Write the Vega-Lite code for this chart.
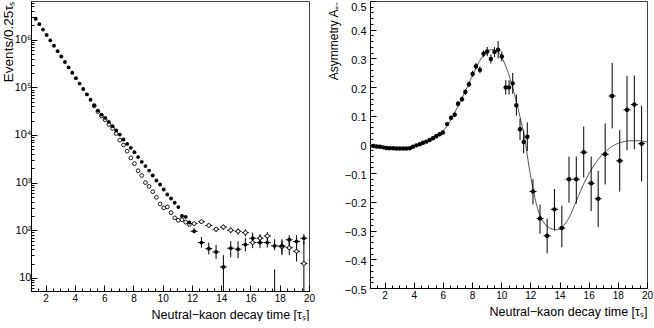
{
  "$schema": "https://vega.github.io/schema/vega-lite/v6.json",
  "padding": {"left": 0, "top": -4, "right": 0, "bottom": 0},
  "autosize": {"type": "pad"},
  "config": {
    "font": "Liberation Sans",
    "view": {"stroke": "#444", "strokeWidth": 1},
    "axis": {"domainColor": "#000", "tickColor": "#000", "labelColor": "#000", "titleColor": "#000", "grid": false, "titleFontWeight": "normal", "labelOverlap": false, "labelFlush": false}
  },
  "spacing": 61,
  "bounds": "flush",
  "datasets": {
    "lf": [
      {"t": 1.32, "n": 2754000}, {"t": 1.57, "n": 2123000}, {"t": 1.82, "n": 1633000}, {"t": 2.07, "n": 1259000},
      {"t": 2.32, "n": 968000}, {"t": 2.57, "n": 746000}, {"t": 2.82, "n": 575000}, {"t": 3.07, "n": 443000},
      {"t": 3.32, "n": 341000}, {"t": 3.57, "n": 262000}, {"t": 3.82, "n": 202000}, {"t": 4.07, "n": 156000},
      {"t": 4.32, "n": 120000}, {"t": 4.57, "n": 92500}, {"t": 4.82, "n": 71100}, {"t": 5.07, "n": 54800},
      {"t": 5.32, "n": 42300}, {"t": 5.57, "n": 32500}, {"t": 5.82, "n": 26800}, {"t": 6.07, "n": 22800},
      {"t": 6.32, "n": 18800}, {"t": 6.57, "n": 15300}, {"t": 6.82, "n": 12400}, {"t": 7.07, "n": 10200},
      {"t": 7.32, "n": 8020}, {"t": 7.57, "n": 6500}, {"t": 7.82, "n": 5370}, {"t": 8.07, "n": 4360},
      {"t": 8.32, "n": 3430}, {"t": 8.57, "n": 2730}, {"t": 8.82, "n": 2220}, {"t": 9.07, "n": 1790},
      {"t": 9.32, "n": 1410}, {"t": 9.57, "n": 1110}, {"t": 9.82, "n": 912}, {"t": 10.07, "n": 716},
      {"t": 10.32, "n": 562}, {"t": 10.57, "n": 465}, {"t": 10.82, "n": 377}, {"t": 11.07, "n": 306},
      {"t": 11.32, "n": 200}, {"t": 11.57, "n": 191}, {"t": 11.82, "n": 145}
    ],
    "lfe": [
      {"t": 12.15, "n": 95, "lo": 87, "hi": 110}, {"t": 12.65, "n": 55, "lo": 43, "hi": 72},
      {"t": 13.15, "n": 41, "lo": 31, "hi": 55}, {"t": 13.65, "n": 35, "lo": 25, "hi": 49},
      {"t": 14.15, "n": 17, "lo": 3, "hi": 30}, {"t": 14.65, "n": 42, "lo": 27, "hi": 59},
      {"t": 15.15, "n": 40, "lo": 26, "hi": 59}, {"t": 15.65, "n": 50, "lo": 36, "hi": 69},
      {"t": 16.15, "n": 68, "lo": 49, "hi": 89}, {"t": 16.65, "n": 55, "lo": 42, "hi": 79},
      {"t": 17.15, "n": 55, "lo": 43, "hi": 79}, {"t": 17.65, "n": 47, "lo": 38, "hi": 65},
      {"t": 18.15, "n": 47, "lo": 30, "hi": 65}, {"t": 18.65, "n": 63, "lo": 47, "hi": 79},
      {"t": 19.15, "n": 58, "lo": 30, "hi": 79}, {"t": 19.65, "n": 68, "lo": 50, "hi": 83}
    ],
    "lo": [
      {"t": 5.32, "n": 40700}, {"t": 5.57, "n": 30900}, {"t": 5.82, "n": 25100}, {"t": 6.07, "n": 20900},
      {"t": 6.32, "n": 16600}, {"t": 6.57, "n": 13800}, {"t": 6.82, "n": 10700}, {"t": 7.07, "n": 7760},
      {"t": 7.32, "n": 6170}, {"t": 7.57, "n": 4570}, {"t": 7.82, "n": 3310}, {"t": 8.07, "n": 2510},
      {"t": 8.32, "n": 1780}, {"t": 8.57, "n": 1410}, {"t": 8.82, "n": 1000}, {"t": 9.07, "n": 832},
      {"t": 9.32, "n": 646}, {"t": 9.57, "n": 490}, {"t": 9.82, "n": 355}, {"t": 10.07, "n": 295},
      {"t": 10.32, "n": 309}, {"t": 10.57, "n": 234}, {"t": 10.82, "n": 182}, {"t": 11.07, "n": 162},
      {"t": 11.32, "n": 166}, {"t": 11.57, "n": 148}, {"t": 11.82, "n": 132}
    ],
    "loe": [
      {"t": 12.15, "n": 138, "lo": 125, "hi": 150}, {"t": 12.65, "n": 151, "lo": 138, "hi": 165},
      {"t": 13.15, "n": 126, "lo": 112, "hi": 140}, {"t": 13.65, "n": 105, "lo": 92, "hi": 118},
      {"t": 14.15, "n": 117, "lo": 102, "hi": 132}, {"t": 14.65, "n": 100, "lo": 86, "hi": 115},
      {"t": 15.15, "n": 95, "lo": 80, "hi": 110}, {"t": 15.65, "n": 89, "lo": 74, "hi": 104},
      {"t": 16.15, "n": 55, "lo": 42, "hi": 70}, {"t": 16.65, "n": 68, "lo": 53, "hi": 83},
      {"t": 17.15, "n": 76, "lo": 60, "hi": 92}, {"t": 17.65, "n": 3, "lo": 1, "hi": 15},
      {"t": 18.15, "n": 45, "lo": 32, "hi": 60}, {"t": 18.65, "n": 43, "lo": 30, "hi": 57},
      {"t": 19.15, "n": 36, "lo": 22, "hi": 50}, {"t": 19.65, "n": 20, "lo": 3, "hi": 59}
    ],
    "ra": [
      {"t": 1.22, "a": -0.005, "lo": -0.008, "hi": -0.002}, {"t": 1.45, "a": -0.007, "lo": -0.010, "hi": -0.004},
      {"t": 1.68, "a": -0.008, "lo": -0.011, "hi": -0.005}, {"t": 1.91, "a": -0.010, "lo": -0.013, "hi": -0.007},
      {"t": 2.13, "a": -0.012, "lo": -0.015, "hi": -0.009}, {"t": 2.36, "a": -0.013, "lo": -0.016, "hi": -0.010},
      {"t": 2.59, "a": -0.013, "lo": -0.016, "hi": -0.010}, {"t": 2.81, "a": -0.014, "lo": -0.017, "hi": -0.011},
      {"t": 3.04, "a": -0.014, "lo": -0.017, "hi": -0.011}, {"t": 3.27, "a": -0.014, "lo": -0.017, "hi": -0.011},
      {"t": 3.49, "a": -0.014, "lo": -0.018, "hi": -0.010}, {"t": 3.73, "a": -0.013, "lo": -0.017, "hi": -0.009},
      {"t": 3.95, "a": -0.008, "lo": -0.012, "hi": -0.004}, {"t": 4.18, "a": -0.003, "lo": -0.007, "hi": 0.001},
      {"t": 4.41, "a": 0.001, "lo": -0.003, "hi": 0.005}, {"t": 4.63, "a": 0.006, "lo": 0.001, "hi": 0.011},
      {"t": 4.86, "a": 0.010, "lo": 0.005, "hi": 0.015}, {"t": 5.09, "a": 0.016, "lo": 0.011, "hi": 0.021},
      {"t": 5.32, "a": 0.022, "lo": 0.016, "hi": 0.028}, {"t": 5.54, "a": 0.029, "lo": 0.023, "hi": 0.035},
      {"t": 5.77, "a": 0.036, "lo": 0.030, "hi": 0.042}, {"t": 6.0, "a": 0.042, "lo": 0.035, "hi": 0.049},
      {"t": 6.29, "a": 0.071, "lo": 0.064, "hi": 0.078}, {"t": 6.56, "a": 0.093, "lo": 0.085, "hi": 0.101},
      {"t": 6.81, "a": 0.104, "lo": 0.096, "hi": 0.112}, {"t": 7.04, "a": 0.142, "lo": 0.133, "hi": 0.151},
      {"t": 7.31, "a": 0.158, "lo": 0.149, "hi": 0.167}, {"t": 7.54, "a": 0.183, "lo": 0.173, "hi": 0.193},
      {"t": 7.79, "a": 0.210, "lo": 0.200, "hi": 0.220}, {"t": 8.04, "a": 0.246, "lo": 0.235, "hi": 0.257},
      {"t": 8.27, "a": 0.273, "lo": 0.262, "hi": 0.284}, {"t": 8.54, "a": 0.260, "lo": 0.248, "hi": 0.272},
      {"t": 8.79, "a": 0.316, "lo": 0.304, "hi": 0.328}, {"t": 9.04, "a": 0.324, "lo": 0.308, "hi": 0.340},
      {"t": 9.29, "a": 0.298, "lo": 0.282, "hi": 0.314}, {"t": 9.54, "a": 0.322, "lo": 0.305, "hi": 0.339},
      {"t": 9.79, "a": 0.330, "lo": 0.300, "hi": 0.360}, {"t": 10.04, "a": 0.307, "lo": 0.290, "hi": 0.324},
      {"t": 10.31, "a": 0.199, "lo": 0.174, "hi": 0.224}, {"t": 10.54, "a": 0.199, "lo": 0.174, "hi": 0.224},
      {"t": 10.79, "a": 0.213, "lo": 0.177, "hi": 0.249}, {"t": 11.04, "a": 0.137, "lo": 0.100, "hi": 0.174},
      {"t": 11.29, "a": 0.053, "lo": 0.016, "hi": 0.090}, {"t": 11.54, "a": 0.009, "lo": -0.031, "hi": 0.049},
      {"t": 11.79, "a": 0.027, "lo": -0.023, "hi": 0.077},
      {"t": 12.18, "a": -0.164, "lo": -0.209, "hi": -0.121}, {"t": 12.66, "a": -0.258, "lo": -0.311, "hi": -0.209},
      {"t": 13.15, "a": -0.318, "lo": -0.379, "hi": -0.258}, {"t": 13.65, "a": -0.226, "lo": -0.300, "hi": -0.155},
      {"t": 14.16, "a": -0.291, "lo": -0.358, "hi": -0.213}, {"t": 14.65, "a": -0.121, "lo": -0.203, "hi": -0.042},
      {"t": 15.15, "a": -0.121, "lo": -0.206, "hi": -0.042}, {"t": 15.66, "a": -0.027, "lo": -0.115, "hi": 0.062},
      {"t": 16.17, "a": -0.135, "lo": -0.232, "hi": -0.042}, {"t": 16.65, "a": -0.189, "lo": -0.287, "hi": -0.092},
      {"t": 17.13, "a": -0.034, "lo": -0.139, "hi": 0.073}, {"t": 17.61, "a": 0.169, "lo": 0.056, "hi": 0.284},
      {"t": 18.13, "a": -0.057, "lo": -0.164, "hi": 0.050}, {"t": 18.63, "a": 0.121, "lo": -0.020, "hi": 0.239},
      {"t": 19.13, "a": 0.139, "lo": -0.017, "hi": 0.240}, {"t": 19.63, "a": 0.003, "lo": -0.129, "hi": 0.135}
    ],
    "rc": [
      {"t": 1.0, "a": 0.0}, {"t": 1.5, "a": -0.004}, {"t": 2.0, "a": -0.008}, {"t": 2.5, "a": -0.011},
      {"t": 3.0, "a": -0.013}, {"t": 3.5, "a": -0.013}, {"t": 4.0, "a": -0.008}, {"t": 4.5, "a": 0.002},
      {"t": 5.0, "a": 0.014}, {"t": 5.5, "a": 0.028}, {"t": 6.0, "a": 0.047}, {"t": 6.5, "a": 0.082},
      {"t": 7.0, "a": 0.130}, {"t": 7.5, "a": 0.182}, {"t": 8.0, "a": 0.237}, {"t": 8.5, "a": 0.289},
      {"t": 9.0, "a": 0.322}, {"t": 9.35, "a": 0.331}, {"t": 9.7, "a": 0.326}, {"t": 10.0, "a": 0.307},
      {"t": 10.5, "a": 0.247}, {"t": 11.0, "a": 0.157}, {"t": 11.3, "a": 0.094}, {"t": 11.6, "a": 0.025},
      {"t": 11.9, "a": -0.075}, {"t": 12.2, "a": -0.160}, {"t": 12.6, "a": -0.240}, {"t": 13.0, "a": -0.277},
      {"t": 13.4, "a": -0.293}, {"t": 13.8, "a": -0.297}, {"t": 14.2, "a": -0.287}, {"t": 14.65, "a": -0.255},
      {"t": 15.15, "a": -0.197}, {"t": 15.7, "a": -0.133}, {"t": 16.2, "a": -0.086}, {"t": 16.65, "a": -0.052},
      {"t": 17.1, "a": -0.028}, {"t": 17.65, "a": -0.005}, {"t": 18.2, "a": 0.007}, {"t": 18.8, "a": 0.013},
      {"t": 19.4, "a": 0.013}, {"t": 20.0, "a": 0.009}
    ]
  },
  "hconcat": [
    {
      "width": 278,
      "height": 290,
      "encoding": {
        "x": {
          "field": "t", "type": "quantitative",
          "scale": {"domain": [1, 20], "nice": false, "zero": false},
          "axis": {
            "title": "Neutral−kaon decay time [τₛ]", "titleAnchor": "end", "titleFontSize": 12.5, "titlePadding": 2,
            "values": [1.5,2,2.5,3,3.5,4,4.5,5,5.5,6,6.5,7,7.5,8,8.5,9,9.5,10,10.5,11,11.5,12,12.5,13,13.5,14,14.5,15,15.5,16,16.5,17,17.5,18,18.5,19,19.5,20],
            "labelExpr": "datum.value % 2 == 0 ? format(datum.value, 'd') : ''",
            "labelFontSize": 10, "labelPadding": 8,
            "tickSize": {"condition": {"test": "datum.value % 2 == 0", "value": -6}, "value": -3}
          }
        },
        "y": {
          "field": "n", "type": "quantitative",
          "scale": {"type": "log", "domain": [5.3, 6500000], "nice": false},
          "axis": {
            "title": "Events/0.25τₛ", "titleAnchor": "end", "titleFontSize": 13.5, "titlePadding": -1,
            "values": [6,7,8,9,10,20,30,40,50,60,70,80,90,100,200,300,400,500,600,700,800,900,1000,2000,3000,4000,5000,6000,7000,8000,9000,10000,20000,30000,40000,50000,60000,70000,80000,90000,100000,200000,300000,400000,500000,600000,700000,800000,900000,1000000,2000000,3000000,4000000,5000000,6000000],
            "labelExpr": "datum.value == 10 ? '10' : datum.value == 100 ? '10²' : datum.value == 1000 ? '10³' : datum.value == 10000 ? '10⁴' : datum.value == 100000 ? '10⁵' : datum.value == 1000000 ? '10⁶' : ''",
            "labelFontSize": 11, "labelPadding": 6,
            "tickSize": {"condition": {"test": "indexof([10,100,1000,10000,100000,1000000], datum.value) >= 0", "value": -6}, "value": -3}
          }
        }
      },
      "layer": [
        {
          "data": {"name": "loe"},
          "mark": {"type": "rule", "clip": true, "color": "#000", "strokeWidth": 1},
          "encoding": {
            "y": {"field": "lo", "type": "quantitative", "scale": {"type": "log", "domain": [5.3, 6500000], "nice": false}, "title": "Events/0.25τₛ"},
            "y2": {"field": "hi"}
          }
        },
        {
          "data": {"name": "lfe"},
          "mark": {"type": "rule", "clip": true, "color": "#000", "strokeWidth": 1},
          "encoding": {
            "y": {"field": "lo", "type": "quantitative", "scale": {"type": "log", "domain": [5.3, 6500000], "nice": false}, "title": "Events/0.25τₛ"},
            "y2": {"field": "hi"}
          }
        },
        {
          "data": {"name": "loe"},
          "mark": {"type": "tick", "orient": "horizontal", "size": 7, "thickness": 1, "color": "#000", "clip": true, "opacity": 1}
        },
        {
          "data": {"name": "lfe"},
          "mark": {"type": "tick", "orient": "horizontal", "size": 7, "thickness": 1, "color": "#000", "clip": true, "opacity": 1}
        },
        {
          "data": {"name": "lo"},
          "mark": {"type": "point", "shape": "circle", "filled": false, "fill": "#fff", "fillOpacity": 1, "stroke": "#000", "strokeWidth": 0.9, "size": 14, "opacity": 1, "clip": true}
        },
        {
          "data": {"name": "loe"},
          "mark": {"type": "point", "shape": "circle", "filled": false, "fill": "#fff", "fillOpacity": 1, "stroke": "#000", "strokeWidth": 0.9, "size": 14, "opacity": 1, "clip": true}
        },
        {
          "data": {"name": "lf"},
          "mark": {"type": "point", "shape": "circle", "filled": true, "color": "#000", "size": 15, "opacity": 1, "clip": true}
        },
        {
          "data": {"name": "lfe"},
          "mark": {"type": "point", "shape": "circle", "filled": true, "color": "#000", "size": 15, "opacity": 1, "clip": true}
        }
      ]
    },
    {
      "width": 277,
      "height": 287,
      "encoding": {
        "x": {
          "field": "t", "type": "quantitative",
          "scale": {"domain": [1, 20], "nice": false, "zero": false},
          "axis": {
            "title": "Neutral−kaon decay time [τₛ]", "titleAnchor": "end", "titleFontSize": 12.5, "titlePadding": 2,
            "values": [1.5,2,2.5,3,3.5,4,4.5,5,5.5,6,6.5,7,7.5,8,8.5,9,9.5,10,10.5,11,11.5,12,12.5,13,13.5,14,14.5,15,15.5,16,16.5,17,17.5,18,18.5,19,19.5,20],
            "labelExpr": "datum.value % 2 == 0 ? format(datum.value, 'd') : ''",
            "labelFontSize": 10, "labelPadding": 8,
            "tickSize": {"condition": {"test": "datum.value % 2 == 0", "value": -6}, "value": -3}
          }
        },
        "y": {
          "field": "a", "type": "quantitative",
          "scale": {"domain": [-0.5, 0.5], "nice": false, "zero": false},
          "axis": {
            "title": "Asymmetry A₊₋", "titleAnchor": "end", "titleFontSize": 12, "titlePadding": 4,
            "values": [-0.5,-0.48,-0.46,-0.44,-0.42,-0.4,-0.38,-0.36,-0.34,-0.32,-0.3,-0.28,-0.26,-0.24,-0.22,-0.2,-0.18,-0.16,-0.14,-0.12,-0.1,-0.08,-0.06,-0.04,-0.02,0,0.02,0.04,0.06,0.08,0.1,0.12,0.14,0.16,0.18,0.2,0.22,0.24,0.26,0.28,0.3,0.32,0.34,0.36,0.38,0.4,0.42,0.44,0.46,0.48,0.5],
            "labelExpr": "abs(datum.value * 10 - round(datum.value * 10)) < 0.001 ? (datum.value == 0 ? '0' : format(datum.value, '.1f')) : ''",
            "labelFontSize": 11, "labelPadding": 10,
            "labelBaseline": {"condition": {"test": "datum.value > 0.49", "value": "top"}, "value": "middle"},
            "labelOffset": {"condition": {"test": "datum.value > 0.49", "value": 0}, "value": 2},
            "tickSize": {"condition": {"test": "abs(datum.value * 10 - round(datum.value * 10)) < 0.001", "value": -6}, "value": -3}
          }
        }
      },
      "layer": [
        {
          "data": {"name": "rc"},
          "mark": {"type": "line", "color": "#555", "strokeWidth": 1, "interpolate": "monotone", "clip": true}
        },
        {
          "data": {"name": "ra"},
          "mark": {"type": "rule", "clip": true, "color": "#000", "strokeWidth": 1},
          "encoding": {
            "y": {"field": "lo", "type": "quantitative", "scale": {"domain": [-0.5, 0.5], "nice": false, "zero": false}, "title": "Asymmetry A₊₋"},
            "y2": {"field": "hi"}
          }
        },
        {
          "data": {"name": "ra"},
          "transform": [{"filter": "datum.t > 12"}],
          "mark": {"type": "tick", "orient": "horizontal", "size": 7, "thickness": 1, "color": "#000", "clip": true, "opacity": 1}
        },
        {
          "data": {"name": "ra"},
          "mark": {"type": "point", "shape": "circle", "filled": true, "color": "#000", "size": 20, "opacity": 1, "clip": true}
        }
      ]
    }
  ]
}
